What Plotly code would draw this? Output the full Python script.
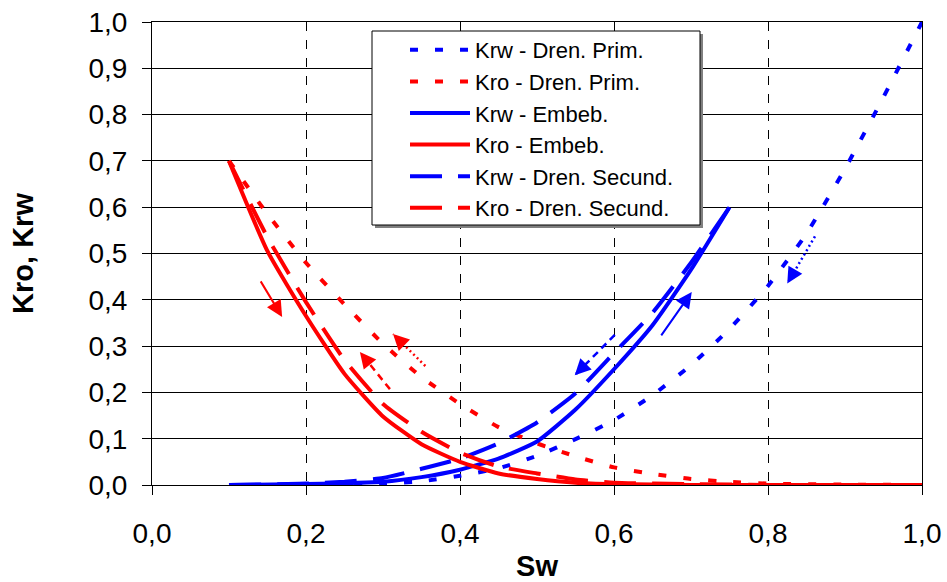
import plotly.graph_objects as go

# ---------------- data ----------------
sw_krw_prim = [0.10, 0.20, 0.30, 0.35, 0.40, 0.45, 0.50, 0.55, 0.60, 0.65, 0.70, 0.75, 0.80, 0.85, 0.90, 0.95, 1.00]
krw_prim    = [0.000, 0.000, 0.003, 0.008, 0.020, 0.036, 0.063, 0.099, 0.140, 0.194, 0.259, 0.337, 0.430, 0.543, 0.683, 0.838, 1.000]

sw_kro_prim = [0.10, 0.15, 0.20, 0.25, 0.30, 0.35, 0.40, 0.45, 0.50, 0.55, 0.60, 0.65, 0.70, 0.75, 0.80, 0.90, 1.00]
kro_prim    = [0.700, 0.585, 0.480, 0.390, 0.305, 0.233, 0.175, 0.125, 0.090, 0.062, 0.038, 0.024, 0.013, 0.007, 0.003, 0.001, 0.000]

sw_krw_emb = [0.10, 0.20, 0.30, 0.35, 0.40, 0.45, 0.50, 0.55, 0.60, 0.65, 0.70, 0.75]
krw_emb    = [0.000, 0.002, 0.007, 0.017, 0.033, 0.057, 0.094, 0.163, 0.250, 0.345, 0.465, 0.600]

sw_kro_emb = [0.10, 0.15, 0.20, 0.25, 0.30, 0.35, 0.40, 0.45, 0.50, 0.55, 0.60, 0.70, 0.80, 0.90, 1.00]
kro_emb    = [0.700, 0.505, 0.365, 0.240, 0.148, 0.088, 0.050, 0.025, 0.013, 0.005, 0.002, 0.000, 0.000, 0.000, 0.000]

sw_krw_sec = [0.10, 0.20, 0.25, 0.30, 0.35, 0.40, 0.45, 0.50, 0.55, 0.60, 0.65, 0.70, 0.75]
krw_sec    = [0.000, 0.003, 0.007, 0.015, 0.035, 0.057, 0.090, 0.135, 0.198, 0.285, 0.372, 0.480, 0.600]

sw_kro_sec = [0.10, 0.15, 0.20, 0.25, 0.30, 0.35, 0.40, 0.45, 0.50, 0.55, 0.60, 0.70, 0.80, 0.90, 1.00]
kro_sec    = [0.700, 0.535, 0.395, 0.270, 0.175, 0.115, 0.070, 0.040, 0.025, 0.012, 0.005, 0.002, 0.000, 0.000, 0.000]

series_names = ["Krw - Dren. Prim.", "Kro - Dren. Prim.", "Krw - Embeb.",
                "Kro - Embeb.", "Krw - Dren. Secund.", "Kro - Dren. Secund."]

x_ticks = [0.0, 0.2, 0.4, 0.6, 0.8, 1.0]
y_ticks = [0.0, 0.1, 0.2, 0.3, 0.4, 0.5, 0.6, 0.7, 0.8, 0.9, 1.0]

# direction arrows (tail -> head, in Sw / K units)
arrow_tail_x = [0.140, 0.309, 0.355, 0.660, 0.601, 0.861]
arrow_tail_y = [0.443, 0.207, 0.257, 0.320, 0.324, 0.537]
arrow_head_x = [0.169, 0.270, 0.313, 0.701, 0.549, 0.825]
arrow_head_y = [0.363, 0.287, 0.326, 0.417, 0.237, 0.435]
arrow_color  = ["#FF0000", "#FF0000", "#FF0000", "#0000FF", "#0000FF", "#0000FF"]
arrow_style  = ["solid", "dash", "dot", "solid", "dash", "dot"]

# ---------------- styles ----------------
BLUE, RED = "#0000FF", "#FF0000"
DOT = "8px,17px"
LONG = "32px,16px"
FONT = "Liberation Sans, Arial, sans-serif"

L, R, T, B = 152, 25, 22, 97
W, H = 947, 582
PW, PH = W - L - R, H - T - B


def px_x(px):
    return (px - L) / PW


def px_y(py):
    return (H - B - py) / PH


fig = go.Figure()
specs = [
    (sw_krw_prim, krw_prim, BLUE, DOT),
    (sw_kro_prim, kro_prim, RED, DOT),
    (sw_krw_emb, krw_emb, BLUE, "solid"),
    (sw_kro_emb, kro_emb, RED, "solid"),
    (sw_krw_sec, krw_sec, BLUE, LONG),
    (sw_kro_sec, kro_sec, RED, LONG),
]
for name, (xs, ys, col, dash) in zip(series_names, specs):
    fig.add_trace(go.Scatter(x=xs, y=ys, mode="lines", name=name,
                             line=dict(color=col, width=4, dash=dash, shape="spline", smoothing=0.5)))

# arrows
annotations = []
for tx, ty, hx, hy, col, st in zip(arrow_tail_x, arrow_tail_y, arrow_head_x, arrow_head_y, arrow_color, arrow_style):
    if st == "solid":
        annotations.append(dict(x=hx, y=hy, ax=tx, ay=ty, xref="x", yref="y", axref="x", ayref="y",
                                showarrow=True, arrowhead=2, arrowsize=1.6, arrowwidth=2,
                                arrowcolor=col, standoff=0, text=""))
    else:
        fig.add_trace(go.Scatter(x=[tx, hx], y=[ty, hy], mode="lines", showlegend=False, hoverinfo="skip",
                                 line=dict(color=col, width=2.5,
                                           dash="7px,5px" if st == "dash" else "2px,3px")))
        dxp = (hx - tx) * PW
        dyp = (hy - ty) * PH
        n = (dxp ** 2 + dyp ** 2) ** 0.5
        annotations.append(dict(x=hx, y=hy, ax=-dxp / n * 12, ay=dyp / n * 12, xref="x", yref="y",
                                showarrow=True, arrowhead=2, arrowsize=1.6, arrowwidth=2,
                                arrowcolor=col, standoff=0, text=""))

# legend frame with shadow (drawn as shapes, legend itself transparent)
bx0, by0, bx1, by1 = 372, 31, 700, 225
fig.add_shape(type="rect", xref="paper", yref="paper",
              x0=px_x(bx0 + 3), x1=px_x(bx1 + 3), y0=px_y(by1 + 3), y1=px_y(by0 + 3),
              fillcolor="#808080", line=dict(width=0), layer="above")
fig.add_shape(type="rect", xref="paper", yref="paper",
              x0=px_x(bx0), x1=px_x(bx1), y0=px_y(by1), y1=px_y(by0),
              fillcolor="white", line=dict(color="black", width=1), layer="above")

fig.update_layout(
    width=W, height=H,
    margin=dict(l=L, r=R, t=T, b=B, autoexpand=False),
    paper_bgcolor="white", plot_bgcolor="white",
    separators=",.",
    font=dict(family=FONT, color="black", size=22),
    showlegend=True,
    legend=dict(x=px_x(405), y=px_y(29), xanchor="left", yanchor="top",
                bgcolor="rgba(0,0,0,0)", borderwidth=0,
                font=dict(family=FONT, size=22, color="black"),
                itemwidth=60, tracegroupgap=0),
    annotations=annotations,
    xaxis=dict(range=[0, 1], tickvals=x_ticks, tickformat=".1f",
               showgrid=True, gridcolor="black", gridwidth=1, griddash="dash",
               showline=True, linecolor="black", linewidth=1, mirror=True,
               ticks="outside", ticklen=9, tickcolor="black", zeroline=False,
               tickfont=dict(size=28, family=FONT), ticklabelstandoff=14,
               title=dict(text="<b>Sw</b>", font=dict(size=29, family=FONT), standoff=16)),
    yaxis=dict(range=[0, 1], tickvals=y_ticks, tickformat=".1f",
               showgrid=True, gridcolor="black", gridwidth=1,
               showline=True, linecolor="black", linewidth=1, mirror=True,
               ticks="outside", ticklen=9, tickcolor="black", zeroline=False,
               tickfont=dict(size=28, family=FONT), ticklabelstandoff=9,
               title=dict(text="<b>Kro, Krw</b>", font=dict(size=29, family=FONT), standoff=46)),
)

fig.write_html("out.html", config={"displayModeBar": False},
               post_script="document.body.style.margin='0';")
